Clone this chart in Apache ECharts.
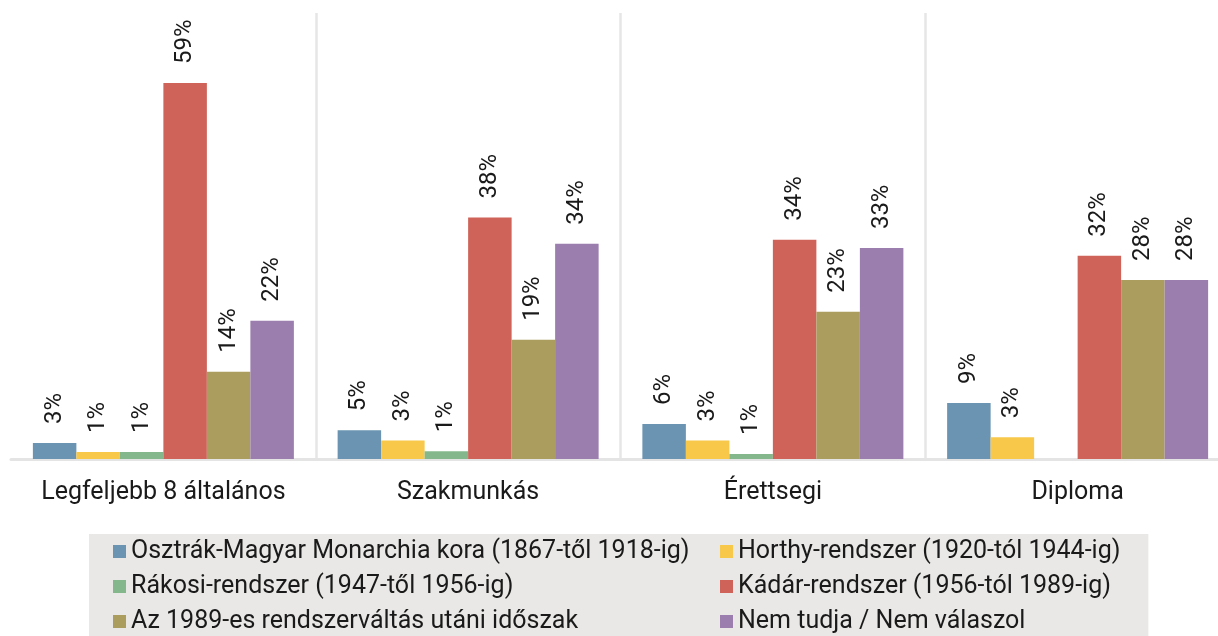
<!DOCTYPE html>
<html>
<head>
<meta charset="utf-8">
<script src="https://cdn.jsdelivr.net/npm/echarts@6/dist/echarts.min.js"></script>
<style>
  html, body { margin: 0; padding: 0; background: #fff; }
  #chart { width: 1218px; height: 636px; }
</style>
</head>
<body>
<div id="chart"></div>
<script>
// kategóriák (iskolai végzettség)
const categories = ['Legfeljebb 8 általános', 'Szakmunkás', 'Érettsegi', 'Diploma'];

// sorozatok nevei
const seriesNames = [
  'Osztrák-Magyar Monarchia kora (1867-től 1918-ig)',
  'Horthy-rendszer (1920-tól 1944-ig)',
  'Rákosi-rendszer (1947-től 1956-ig)',
  'Kádár-rendszer (1956-tól 1989-ig)',
  'Az 1989-es rendszerváltás utáni időszak',
  'Nem tudja / Nem válaszol'
];

// értékek (%), kategóriánként
const monarchia = [2.5, 4.5, 5.5, 8.8];
const horthy = [1.1, 2.9, 2.9, 3.4];
const rakosi = [1.1, 1.2, 0.8, 0];
const kadar = [59, 37.9, 34.4, 31.9];
const rendszervaltas = [13.7, 18.7, 23.1, 28.1];
const nemTudja = [21.7, 33.8, 33.1, 28.1];

const seriesData = [monarchia, horthy, rakosi, kadar, rendszervaltas, nemTudja];
const colors = ['#6a94b2', '#f7c84a', '#84b88c', '#cf6359', '#ab9d5e', '#9b7eae'];

const chart = echarts.init(document.getElementById('chart'));

chart.setOption({
  animation: false,
  textStyle: { fontFamily: 'Roboto' },
  grid: {
    left: 11,
    width: 1219,
    top: 13,
    bottom: 177,
    outerBoundsMode: 'none'
  },
  xAxis: {
    type: 'category',
    data: categories,
    axisTick: { show: false },
    axisLine: { lineStyle: { color: '#e4e4e4', width: 3 } },
    axisLabel: { color: '#1a1a1a', fontSize: 25, margin: 21, interval: 0 },
    splitLine: {
      show: true,
      interval: function (index) { return index > 0; },
      lineStyle: { color: '#e6e6e6', width: 2.5 }
    }
  },
  yAxis: {
    type: 'value',
    min: 0,
    max: 70,
    show: false,
    splitLine: { show: false }
  },
  legend: {
    left: 89,
    top: 534,
    width: 1030,
    backgroundColor: '#e9e8e6',
    padding: [5, 28, 30, 24],
    itemWidth: 13,
    itemHeight: 13,
    itemGap: 10,
    icon: 'rect',
    textStyle: { color: '#1a1a1a', fontSize: 25, lineHeight: 25 },
    data: seriesNames.map(function (n, i) {
      return i % 2 === 0 ? { name: n, textStyle: { width: 579 } } : { name: n };
    })
  },
  series: seriesData.map(function (d, i) {
    return {
      name: seriesNames[i],
      type: 'bar',
      data: d,
      barWidth: 43.5,
      barGap: 0,
      itemStyle: { color: colors[i] },
      label: {
        show: true,
        position: 'top',
        rotate: 90,
        align: 'left',
        verticalAlign: 'middle',
        distance: 19,
        color: '#1a1a1a',
        fontSize: 24,
        formatter: function (p) {
          return p.value > 0 ? Math.round(p.value) + '%' : '';
        }
      }
    };
  })
});
</script>
</body>
</html>
